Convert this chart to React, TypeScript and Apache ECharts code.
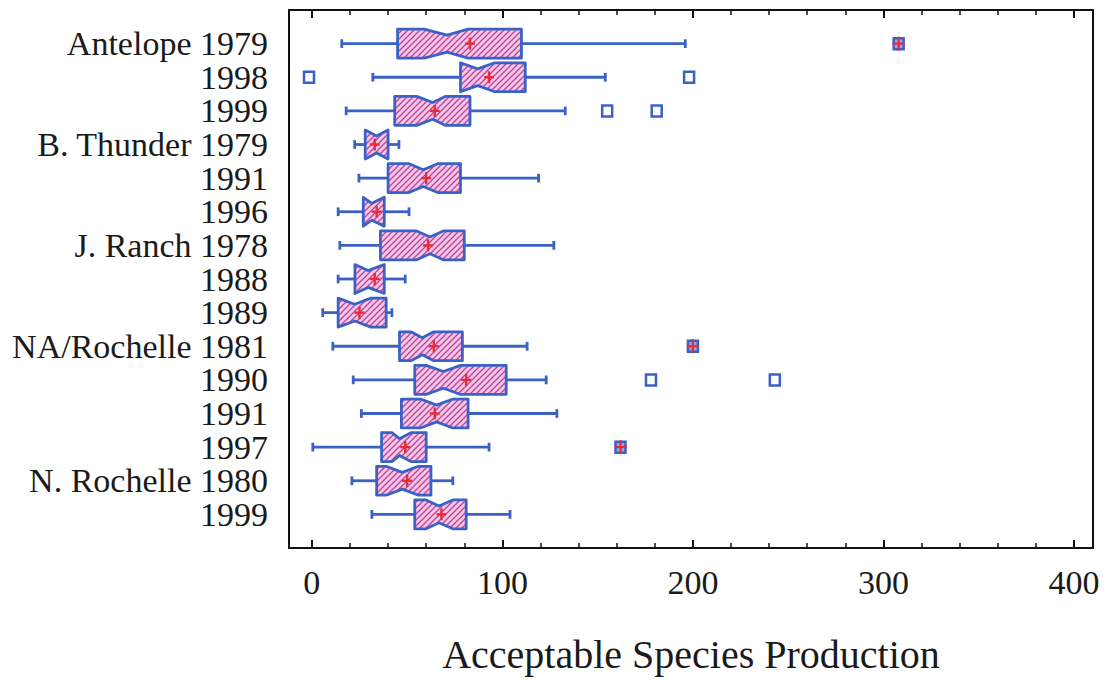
import React, { useEffect, useRef } from "react";
import * as echarts from "echarts";

// ---- data ----
const categories = [
  "Antelope 1979", "1998", "1999",
  "B. Thunder 1979", "1991", "1996",
  "J. Ranch 1978", "1988", "1989",
  "NA/Rochelle 1981", "1990", "1991", "1997",
  "N. Rochelle 1980", "1999",
];
const whiskerLow = [15.7, 32, 18, 22.5, 24.7, 13.8, 14.7, 13.8, 5.7, 11, 21.7, 26, 0.5, 21, 31.5];
const quart1 = [45, 78, 43.5, 28, 40, 27, 36, 22.6, 13.8, 46, 54, 47, 36.6, 34, 54];
const notchLow = [59, 70, 55, 20, 51, 20, 55, 18, 12, 52, 60, 57, 42, 39, 60];
const medians = [71, 87, 63.5, 34, 58.5, 31.5, 62, 29.5, 22.5, 58, 69, 65.5, 46, 47.5, 66.7];
const notchHigh = [82, 96, 70, 48, 66, 43, 69, 41, 31, 64, 78, 74, 52, 56, 74];
const quart3 = [110, 112, 83, 40, 78, 38, 80, 38, 39, 79, 102, 82, 60, 62.5, 81];
const whiskerHigh = [196, 154, 133, 45.7, 119, 51, 127, 49, 42, 113, 123, 128.6, 93, 74, 104];
const means = [83, 93, 64.5, 33, 60, 34, 61, 33, 25, 64, 81, 64.5, 49, 50, 68];
// outliers: [row index, value, far (1 = marked with +)]
const outliers: [number, number, number][] = [
  [0, 308, 1],
  [1, -1.5, 0], [1, 198, 0],
  [2, 155, 0], [2, 181, 0],
  [9, 200, 1],
  [10, 178, 0], [10, 243, 0],
  [12, 162, 1],
];
const xTickLabels = [0, 100, 200, 300, 400];
const xMinorTicks = [0, 20, 40, 60, 80, 100, 120, 140, 160, 180, 200, 220, 240, 260, 280, 300, 320, 340, 360, 380, 400];
const xAxisTitle = "Acceptable Species Production";

const BLUE = "#3a61c6";
const RED = "#ea2b36";
const FONT = "Liberation Serif";

function makeHatch() {
  const s = 6;
  const c = document.createElement("canvas");
  c.width = s;
  c.height = s;
  const ctx = c.getContext("2d")!;
  ctx.fillStyle = "#f5c8e8";
  ctx.fillRect(0, 0, s, s);
  ctx.strokeStyle = "#c23f98";
  ctx.lineWidth = 1.3;
  ctx.beginPath();
  ctx.moveTo(-1, s + 1);
  ctx.lineTo(s + 1, -1);
  ctx.moveTo(-1, 1);
  ctx.lineTo(1, -1);
  ctx.moveTo(s - 1, s + 1);
  ctx.lineTo(s + 1, s - 1);
  ctx.stroke();
  return { image: c.toDataURL(), repeat: "repeat", imageWidth: s, imageHeight: s };
}

export default function App() {
  const ref = useRef<HTMLDivElement>(null);
  useEffect(() => {
    if (!ref.current) return;
    const chart = echarts.init(ref.current, null, { renderer: "svg" });
    const hatch = makeHatch();

    const boxData = categories.map((_, i) => [
      i + 1, whiskerLow[i], quart1[i], notchLow[i], medians[i], notchHigh[i], quart3[i], whiskerHigh[i], means[i],
    ]);
    const outData = outliers.map(([r, v, f]) => [r + 1, v, f]);

    const renderBox = (params: any, api: any) => {
      const row = api.value(0);
      const wl = api.value(1), b1 = api.value(2), nlRaw = api.value(3), md = api.value(4);
      const nhRaw = api.value(5), b3 = api.value(6), wh = api.value(7), mn = api.value(8);
      const X = (v: number) => api.coord([v, row])[0];
      const yc = api.coord([0, row])[1];
      const unit = api.size([0, 1])[1];
      const h = unit * 0.43;
      const ind = unit * 0.18;
      const cap = unit * 0.13;
      const nl = Math.max(nlRaw, b1);
      const nh = Math.min(nhRaw, b3);
      const top = yc - h, bot = yc + h;
      const pts = [
        [X(b1), top], [X(nl), top], [X(md), top + ind], [X(nh), top], [X(b3), top],
        [X(b3), bot], [X(nh), bot], [X(md), bot - ind], [X(nl), bot], [X(b1), bot],
      ];
      const lineStyle = { stroke: BLUE, lineWidth: 2.8 };
      return {
        type: "group",
        children: [
          { type: "line", shape: { x1: X(wl), y1: yc, x2: X(b1), y2: yc }, style: lineStyle },
          { type: "line", shape: { x1: X(b3), y1: yc, x2: X(wh), y2: yc }, style: lineStyle },
          { type: "line", shape: { x1: X(wl), y1: yc - cap, x2: X(wl), y2: yc + cap }, style: lineStyle },
          { type: "line", shape: { x1: X(wh), y1: yc - cap, x2: X(wh), y2: yc + cap }, style: lineStyle },
          { type: "polygon", shape: { points: pts }, style: { fill: hatch, stroke: BLUE, lineWidth: 2.8, lineJoin: "round" } },
          { type: "line", shape: { x1: X(mn) - 5, y1: yc, x2: X(mn) + 5, y2: yc }, style: { stroke: RED, lineWidth: 2.4 } },
          { type: "line", shape: { x1: X(mn), y1: yc - 6, x2: X(mn), y2: yc + 6 }, style: { stroke: RED, lineWidth: 2.4 } },
        ],
      };
    };

    const renderOut = (params: any, api: any) => {
      const row = api.value(0);
      const v = api.value(1);
      const far = api.value(2);
      const [x, y] = api.coord([v, row]);
      const children: any[] = [
        {
          type: "rect",
          shape: { x: x - 5, y: y - 5.5, width: 10, height: 11 },
          style: { fill: far ? "#8fa6e6" : "#fff", stroke: BLUE, lineWidth: 2.5 },
        },
      ];
      if (far) {
        children.push(
          { type: "line", shape: { x1: x - 6, y1: y, x2: x + 6, y2: y }, style: { stroke: RED, lineWidth: 2.2 } },
          { type: "line", shape: { x1: x, y1: y - 7, x2: x, y2: y + 7 }, style: { stroke: RED, lineWidth: 2.2 } }
        );
      }
      return { type: "group", children };
    };

    const axisLine = { show: true, onZero: false, lineStyle: { color: "#111", width: 2 } };
    const noLine = { show: false, onZero: false };
    const baseX = { type: "value", min: -12, max: 410, splitLine: { show: false } };

    chart.setOption({
      animation: false,
      backgroundColor: "#fff",
      grid: { left: 289, right: 13, top: 10, bottom: 132, containLabel: false },
      xAxis: [
        {
          ...baseX,
          position: "bottom",
          axisLine,
          axisTick: { show: true, inside: true, length: 8, customValues: xTickLabels, lineStyle: { color: "#111", width: 2 } },
          axisLabel: {
            customValues: xTickLabels,
            fontFamily: FONT, fontSize: 34, color: "#1a1a1a", margin: 17,
          },
          name: xAxisTitle,
          nameLocation: "middle",
          nameGap: 86,
          nameTextStyle: { fontFamily: FONT, fontSize: 40, color: "#1a1a1a" },
        },
        {
          ...baseX,
          position: "bottom",
          axisLine: noLine,
          axisTick: { show: true, inside: true, length: 5, customValues: xMinorTicks, lineStyle: { color: "#111", width: 1.5 } },
          axisLabel: { show: false },
        },
        {
          ...baseX,
          position: "top",
          axisLine,
          axisTick: { show: true, inside: true, length: 8, customValues: xTickLabels, lineStyle: { color: "#111", width: 2 } },
          axisLabel: { show: false },
        },
        {
          ...baseX,
          position: "top",
          axisLine: noLine,
          axisTick: { show: true, inside: true, length: 5, customValues: xMinorTicks, lineStyle: { color: "#111", width: 1.5 } },
          axisLabel: { show: false },
        },
      ],
      yAxis: [
        {
          type: "value",
          position: "left",
          inverse: true,
          min: 0,
          max: 16,
          interval: 1,
          axisLine,
          axisTick: { show: false },
          splitLine: { show: false },
          axisLabel: {
            fontFamily: FONT,
            fontSize: 34,
            color: "#1a1a1a",
            margin: 21,
            formatter: (v: number) => (v >= 1 && v <= categories.length ? categories[v - 1] : ""),
          },
        },
        {
          type: "value",
          position: "right",
          inverse: true,
          min: 0,
          max: 16,
          interval: 1,
          axisLine,
          axisTick: { show: false },
          splitLine: { show: false },
          axisLabel: { show: false },
        },
      ],
      series: [
        {
          type: "custom",
          xAxisIndex: 0,
          yAxisIndex: 0,
          renderItem: renderBox,
          encode: { x: [1, 2, 3, 4, 5, 6, 7, 8], y: 0 },
          data: boxData,
          clip: false,
        },
        {
          type: "custom",
          xAxisIndex: 0,
          yAxisIndex: 0,
          renderItem: renderOut,
          encode: { x: 1, y: 0 },
          data: outData,
          clip: false,
        },
      ],
    });
    return () => chart.dispose();
  }, []);
  return (
    <div
      ref={ref}
      style={{ position: "fixed", left: 0, top: 0, width: 1106, height: 680, background: "#fff" }}
    />
  );
}
